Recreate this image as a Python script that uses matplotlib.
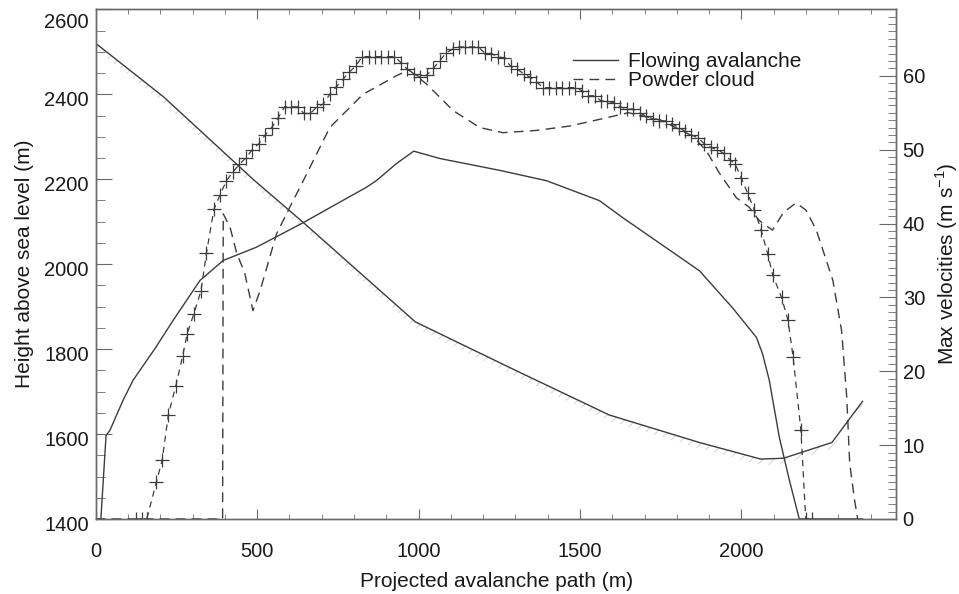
import matplotlib
matplotlib.use('Agg')
import matplotlib.pyplot as plt
import matplotlib.transforms as mtransforms
from matplotlib.ticker import MultipleLocator

# Шрифты, похожие на Helvetica
plt.rcParams['font.family'] = ['Liberation Sans', 'DejaVu Sans']
plt.rcParams['mathtext.fontset'] = 'custom'
plt.rcParams['mathtext.rm'] = 'Liberation Sans'
plt.rcParams['hatch.linewidth'] = 0.7

# Профиль склона (высота над уровнем моря, м)
terrain_x = [0, 210, 490, 640, 990, 1300, 1590, 1870, 2060, 2130, 2280, 2375]
terrain_h = [2520, 2394, 2198, 2100, 1864, 1750, 1645, 1580, 1541, 1543, 1580, 1677]

# Скорость плотной лавины (м/с)
flow_x = [0, 16, 32, 44, 85, 116, 184, 240, 323, 395, 498, 642, 838, 869, 931, 985,
          1066, 1251, 1396, 1560, 1632, 1870, 1972, 2046, 2065, 2086, 2117, 2148, 2179, 2375]
flow_v = [0, 0, 11.3, 12.0, 16.1, 18.8, 23.1, 26.9, 32.3, 35.0, 36.8, 40.1, 44.9, 45.8, 48.1, 49.8,
          48.8, 47.2, 45.8, 43.1, 40.8, 33.6, 28.6, 24.6, 22.4, 18.8, 11.1, 5.3, 0, 0]

# Скорость пылевого облака (м/с)
powder_x = [0, 393, 395, 416, 436, 462, 487, 509, 560, 601, 643, 725, 828, 931, 970,
            1024, 1107, 1189, 1261, 1364, 1468, 1560, 1650, 1750, 1850, 1892, 1932, 1984,
            2024, 2055, 2096, 2130, 2169, 2200, 2232, 2283, 2310, 2326, 2335, 2350, 2360]
powder_v = [0, 0, 41.3, 39.5, 36.1, 33.2, 28.2, 30.9, 38.6, 42.2, 45.8, 53.0, 57.5, 60.0, 60.8,
            58.9, 55.3, 53.0, 52.3, 52.6, 53.2, 54.1, 55.0, 54.0, 51.8, 49.8, 46.8, 43.5,
            42.2, 40.4, 39.1, 41.5, 42.8, 41.8, 39.1, 32.3, 25.5, 16.5, 7.6, 2.6, 0]

# Третья серия (крестики)
obs_x = [125, 143, 158, 188, 206, 225, 248, 269, 283, 304, 326, 343, 366, 385, 405,
         425, 445, 465, 485, 505, 525, 545, 565, 585, 605,
         625, 645, 665, 685, 705, 725, 745, 765, 785, 805,
         825, 845, 865, 885, 905, 925, 945, 965, 985, 1005,
         1025, 1045, 1065, 1085, 1105, 1125, 1145, 1165, 1185, 1205,
         1225, 1245, 1265, 1285, 1305, 1325, 1345, 1365, 1385, 1405,
         1425, 1445, 1465, 1485, 1505, 1525, 1545, 1565, 1585, 1605,
         1625, 1645, 1665, 1685, 1705, 1725, 1745, 1765, 1785, 1805,
         1825, 1845, 1865, 1885, 1905, 1925, 1945, 1965,
         1980, 2000, 2019, 2040, 2061, 2081, 2097, 2124, 2144, 2160, 2184, 2199, 2218]
obs_v = [0, 0, 0, 5.0, 8.0, 14.1, 18.0, 22.0, 25.0, 27.8, 30.9, 36.0, 41.9, 43.9, 45.8,
         47.0, 48.0, 48.9, 50.0, 50.8, 52.0, 53.0, 54.3, 55.8, 55.8,
         55.8, 54.9, 54.9, 55.8, 56.2, 57.5, 58.5, 59.5, 60.5, 61.3,
         62.6, 62.6, 62.6, 62.6, 62.6, 62.6, 61.8, 60.9, 60.3, 59.8,
         60.1, 61.0, 62.0, 63.1, 63.6, 63.9, 63.9, 63.9, 63.9, 63.1,
         63.0, 62.6, 62.4, 61.3, 60.9, 60.3, 59.8, 59.2, 58.4, 58.4,
         58.4, 58.4, 58.4, 58.4, 58.0, 57.3, 57.3, 56.6, 56.6, 56.3,
         55.8, 55.5, 55.5, 55.0, 54.5, 54.2, 53.9, 53.9, 53.5, 53.0,
         52.5, 52.0, 51.6, 50.8, 50.3, 50.0, 49.5, 48.6,
         48.1, 46.1, 44.1, 41.8, 39.1, 35.9, 33.0, 30.0, 26.9, 21.9, 12.0, 0, 0]

line_col = '#3c3c3c'
axis_col = '#6a6a6a'
text_col = '#1a1a1a'

fig = plt.figure(figsize=(9.59, 5.94), dpi=100)
ax = fig.add_axes([0.0998, 0.1263, 0.8350, 0.8580])
ax2 = ax.twinx()

# Склон со штриховкой
ax.fill_between(terrain_x, [h - 14 for h in terrain_h], terrain_h,
                facecolor='none', edgecolor='#d2d2d2', hatch='///', linewidth=0)
ax.plot(terrain_x, terrain_h, color=line_col, lw=1.0)

# Скорости
l_flow, = ax2.plot(flow_x, flow_v, color=line_col, lw=1.0, label='Flowing avalanche')
l_pow, = ax2.plot(powder_x, powder_v, color=line_col, lw=1.0, dashes=(7, 4.5),
                  label='Powder cloud')
ax2.plot(obs_x, obs_v, color=line_col, lw=0.9, dashes=(5, 4), marker='+',
         markersize=10, markeredgewidth=0.9)

ax.set_xlim(0, 2480)
ax.set_ylim(1400, 2600)
ax2.set_ylim(0, 69)

ax.xaxis.set_major_locator(MultipleLocator(500))
ax.xaxis.set_minor_locator(MultipleLocator(100))
ax.yaxis.set_major_locator(MultipleLocator(200))
ax.yaxis.set_minor_locator(MultipleLocator(50))
ax2.yaxis.set_major_locator(MultipleLocator(10))
ax2.yaxis.set_minor_locator(MultipleLocator(1))

ax.tick_params(axis='x', which='both', direction='in', top=True, bottom=True,
               color=axis_col, labelsize=14.5, labelcolor=text_col)
ax.tick_params(axis='x', which='major', length=7.2, pad=16.5)
ax.tick_params(axis='x', which='minor', length=3.6)
ax.tick_params(axis='y', which='both', direction='in', left=True, right=False,
               color=axis_col, labelsize=14.5, labelcolor=text_col)
ax.tick_params(axis='y', which='major', length=11.5, pad=5)
ax.tick_params(axis='y', which='minor', length=6.5)
ax2.tick_params(axis='y', which='both', direction='in', color=axis_col,
                labelsize=14.5, labelcolor=text_col)
ax2.tick_params(axis='y', which='major', length=12, pad=4.5)
ax2.tick_params(axis='y', which='minor', length=6)

for a in (ax, ax2):
    for s in a.spines.values():
        s.set_color(axis_col)
        s.set_linewidth(1.0)

# Подписи левой оси чуть ниже рисок, верхняя - под рамкой
fig.canvas.draw()
shift = mtransforms.ScaledTranslation(0, -3 / 72, fig.dpi_scale_trans)
for lab in ax.get_yticklabels():
    lab.set_transform(lab.get_transform() + shift)
    if lab.get_text() == '2600':
        lab.set_va('top')

ax.set_xlabel('Projected avalanche path (m)', fontsize=15, color=text_col, labelpad=8)
ax.set_ylabel('Height above sea level (m)', fontsize=15, color=text_col, labelpad=7)
ax2.set_ylabel('Max velocities (m s$^{-1}$)', fontsize=15, color=text_col, labelpad=6)

ax2.legend(handles=[l_flow, l_pow], loc='upper left', bbox_to_anchor=(0.596, 0.916),
           frameon=False, fontsize=15, handlelength=2.16, handletextpad=0.48,
           labelspacing=0.0, borderpad=0, borderaxespad=0, labelcolor=text_col)

fig.savefig('out.png', dpi=100)
